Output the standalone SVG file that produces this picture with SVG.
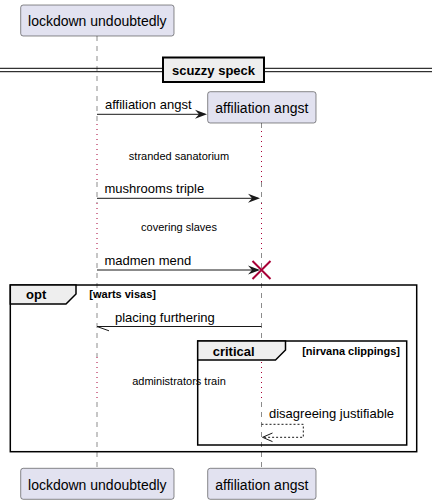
<svg xmlns="http://www.w3.org/2000/svg" width="432" height="504" viewBox="0 0 432 504">
<style>
text{font-family:"Liberation Sans",Arial,sans-serif;fill:#000}
.pbox{fill:#E2E2F0;stroke:#181818;stroke-width:0.5}
.pt{font-size:14px;text-anchor:middle}
.life{stroke:#181818;stroke-width:0.5;stroke-dasharray:5,5;fill:none}
.delay{stroke:#A80036;stroke-width:1;stroke-dasharray:1,4;fill:none}
.msg{stroke:#181818;stroke-width:1;fill:none}
.mt{font-size:13px}
.dt{font-size:11px;text-anchor:middle}
.frame{fill:none;stroke:#000;stroke-width:1.5}
.tab{fill:#EEEEEE;stroke:#000;stroke-width:1.5}
.ft{font-size:13px;font-weight:bold}
.gt{font-size:11px;font-weight:bold}
</style>
<g id="lifelines">
<path class="life" d="M97,36 V124 M97,182 V203 M97,253 V357 M97,402 V468"/>
<path class="life" d="M261.5,123 V131 M261.5,182 V203 M261.5,253 V362 M261.5,402 V468"/>
<path class="delay" d="M97,124 V182 M97,203 V253 M97,357 V402"/>
<path class="delay" d="M261.5,131 V182 M261.5,203 V253 M261.5,362 V402"/>
</g>
<g id="divider">
<line x1="0" y1="68.3" x2="432" y2="68.3" stroke="#000" stroke-width="1"/>
<line x1="0" y1="71.7" x2="432" y2="71.7" stroke="#000" stroke-width="1"/>
<rect x="163" y="57.5" width="101" height="24.5" fill="#EEEEEE" stroke="#000" stroke-width="2"/>
<text class="ft" x="213.5" y="74.5" text-anchor="middle">scuzzy speck</text>
</g>
<g id="p1">
<rect class="pbox" x="20.7" y="5" width="153.3" height="31" rx="2.5"/>
<text class="pt" x="97.3" y="26">lockdown undoubtedly</text>
</g>
<g id="p2">
<rect class="pbox" x="207.7" y="91.7" width="108.3" height="31.3" rx="2.5"/>
<text class="pt" x="261.8" y="113">affiliation angst</text>
</g>
<g id="p1b">
<rect class="pbox" x="20.7" y="468.3" width="153.3" height="31" rx="2.5"/>
<text class="pt" x="97.3" y="489.5">lockdown undoubtedly</text>
</g>
<g id="p2b">
<rect class="pbox" x="207.7" y="468.3" width="108.3" height="31" rx="2.5"/>
<text class="pt" x="261.8" y="489.5">affiliation angst</text>
</g>
<g id="frames">
<rect class="frame" x="10.3" y="285" width="406.4" height="166.7"/>
<path class="tab" d="M10.3,285 H76 V294 L66,304 H10.3 Z"/>
<text class="ft" x="26" y="299">opt</text>
<text class="gt" x="89.3" y="298">[warts visas]</text>
<rect class="frame" x="197.7" y="341" width="209" height="104"/>
<path class="tab" d="M197.7,341 H285.5 V350 L275.5,360 H197.7 Z"/>
<text class="ft" x="212.7" y="355.5">critical</text>
<text class="gt" x="400" y="355" text-anchor="end">[nirvana clippings]</text>
</g>
<g id="connectors">
<line class="msg" x1="97" y1="114.3" x2="205" y2="114.3"/>
<polygon points="207,114.3 195,109.8 199,114.3 195,118.8" fill="#181818"/>
<text class="mt" x="105" y="109">affiliation angst</text>
<text class="dt" x="179" y="160">stranded sanatorium</text>
<line class="msg" x1="97" y1="198.3" x2="258" y2="198.3"/>
<polygon points="260,198.3 248,193.8 252,198.3 248,202.8" fill="#181818"/>
<text class="mt" x="104.5" y="193">mushrooms triple</text>
<text class="dt" x="179" y="231">covering slaves</text>
<line class="msg" x1="97" y1="270" x2="258" y2="270"/>
<polygon points="260,270 248,265.5 252,270 248,274.5" fill="#181818"/>
<text class="mt" x="104.5" y="265">madmen mend</text>
<path d="M252.5,261 L270.5,279 M270.5,261 L252.5,279" stroke="#A80036" stroke-width="2" fill="none"/>
<line class="msg" x1="261.5" y1="326.5" x2="97" y2="326.5"/>
<line class="msg" x1="97" y1="326.5" x2="109" y2="330.8"/>
<text class="mt" x="115" y="321.5">placing furthering</text>
<text class="dt" x="179" y="385">administrators train</text>
<path class="msg" d="M261.5,424.3 H303.3 V437.3 H262.5" stroke-dasharray="2,2"/>
<path class="msg" d="M272.5,433 L262.5,437.3 L272.5,441.6"/>
<text class="mt" x="269" y="418">disagreeing justifiable</text>
</g>
</svg>
